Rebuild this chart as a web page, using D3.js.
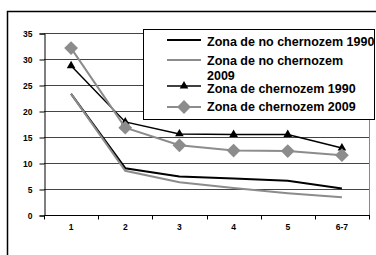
<!DOCTYPE html>
<html>
<head>
<meta charset="utf-8">
<script src="https://cdn.jsdelivr.net/npm/d3@7"></script>
<style>
body { margin: 0; background: #fff; }
svg { display: block; font-family: "Liberation Sans", Arial, sans-serif; font-weight: bold; }
</style>
</head>
<body>
<svg id="chart" width="376" height="255"></svg>
<script>
var categories = ["1", "2", "3", "4", "5", "6-7"];
var noChern1990 = [23.3, 9.0, 7.4, 7.0, 6.6, 5.1];
var noChern2009 = [23.3, 8.5, 6.3, 5.2, 4.2, 3.4];
var chern1990 = [28.7, 17.9, 15.6, 15.5, 15.5, 12.9];
var chern2009 = [32.1, 16.8, 13.4, 12.4, 12.3, 11.5];
var yTicks = [0, 5, 10, 15, 20, 25, 30, 35];

var series = [
	{ name: ["Zona de no chernozem 1990"], values: noChern1990, color: "#000", marker: "none" },
	{ name: ["Zona de no chernozem", "2009"], values: noChern2009, color: "#8c8c8c", marker: "none" },
	{ name: ["Zona de chernozem 1990"], values: chern1990, color: "#000", marker: "triangle" },
	{ name: ["Zona de chernozem 2009"], values: chern2009, color: "#8c8c8c", marker: "diamond" }
];

var svg = d3.select("#chart");
var margin = { left: 44, right: 369, top: 33, bottom: 215 };

// outer frame
svg.append("rect")
	.attr("x", 7.5).attr("y", 11.5)
	.attr("width", 380).attr("height", 260)
	.attr("fill", "none").attr("stroke", "#000").attr("stroke-width", 1.5);

var x = d3.scaleBand().domain(categories).range([margin.left, margin.right]).padding(0);
var y = d3.scaleLinear().domain([0, 35]).range([margin.bottom, margin.top]);

// gridlines
svg.append("g").selectAll("line")
	.data(yTicks.slice(1))
	.enter().append("line")
	.attr("x1", margin.left).attr("x2", margin.right)
	.attr("y1", function(d) { return Math.round(y(d)) + 0.5; })
	.attr("y2", function(d) { return Math.round(y(d)) + 0.5; })
	.attr("stroke", "#444").attr("stroke-width", 1);

// plot right border
svg.append("line")
	.attr("x1", margin.right + 0.5).attr("x2", margin.right + 0.5)
	.attr("y1", margin.top).attr("y2", margin.bottom)
	.attr("stroke", "#888");

// y axis
var yAxis = d3.axisLeft(y).tickValues(yTicks).tickSize(5).tickPadding(7);
var gy = svg.append("g").attr("transform", "translate(" + (margin.left + 0.5) + ",0.5)").call(yAxis);
gy.select(".domain").attr("stroke", "#000");
gy.selectAll(".tick line").attr("stroke", "#000");
gy.selectAll("text").attr("font-size", 8.5).attr("font-weight", "bold")
	.attr("font-family", "Liberation Sans, Arial, sans-serif").attr("fill", "#000");

// x axis with ticks at band edges
var gx = svg.append("g").attr("transform", "translate(0," + (margin.bottom + 0.5) + ")");
gx.append("line").attr("x1", margin.left).attr("x2", margin.right + 1).attr("stroke", "#000");
var edges = categories.map(function(c) { return x(c); }).concat([margin.right]);
gx.selectAll(".edge").data(edges).enter().append("line")
	.attr("x1", function(d) { return Math.round(d) + 0.5; })
	.attr("x2", function(d) { return Math.round(d) + 0.5; })
	.attr("y1", 0).attr("y2", 4).attr("stroke", "#000");
gx.selectAll("text").data(categories).enter().append("text")
	.attr("x", function(d) { return x(d) + x.bandwidth() / 2; })
	.attr("y", 14)
	.attr("text-anchor", "middle")
	.attr("font-size", 8.5)
	.text(function(d) { return d; });

var line = d3.line()
	.x(function(d, i) { return x(categories[i]) + x.bandwidth() / 2; })
	.y(function(d) { return y(d); });

var triangle = d3.symbol().type(d3.symbolTriangle).size(32);
var diamond = d3.symbol().type(d3.symbolSquare).size(95);

series.forEach(function(s) {
	svg.append("path")
		.datum(s.values)
		.attr("d", line)
		.attr("fill", "none")
		.attr("stroke", s.color)
		.attr("stroke-width", s.marker == "triangle" ? 1.5 : 2);
	if (s.marker != "none") {
		svg.append("g").selectAll("path")
			.data(s.values)
			.enter().append("path")
			.attr("d", s.marker == "triangle" ? triangle : diamond)
			.attr("transform", function(d, i) {
				var t = "translate(" + (x(categories[i]) + x.bandwidth() / 2) + "," + y(d) + ")";
				return s.marker == "diamond" ? t + " rotate(45)" : t;
			})
			.attr("fill", s.color);
	}
});

// legend
var legend = svg.append("g");
legend.append("rect")
	.attr("x", 143.5).attr("y", 29.5).attr("width", 231).attr("height", 90)
	.attr("fill", "#fff").attr("stroke", "#000");

var rowY = [40, 60, 86, 107];
var textY = [[46], [65, 80], [93], [111]];
series.forEach(function(s, i) {
	var g = legend.append("g");
	g.append("line").attr("x1", 167).attr("x2", 201).attr("y1", rowY[i]).attr("y2", rowY[i])
		.attr("stroke", s.color).attr("stroke-width", s.marker == "triangle" ? 1.5 : 2);
	if (s.marker != "none") {
		g.append("path")
			.attr("d", s.marker == "triangle" ? triangle : diamond)
			.attr("transform", "translate(184," + rowY[i] + ")" + (s.marker == "diamond" ? " rotate(45)" : ""))
			.attr("fill", s.color);
	}
	s.name.forEach(function(t, k) {
		g.append("text")
			.attr("x", 207).attr("y", textY[i][k])
			.attr("font-size", 12.5)
			.text(t);
	});
});
</script>
</body>
</html>
